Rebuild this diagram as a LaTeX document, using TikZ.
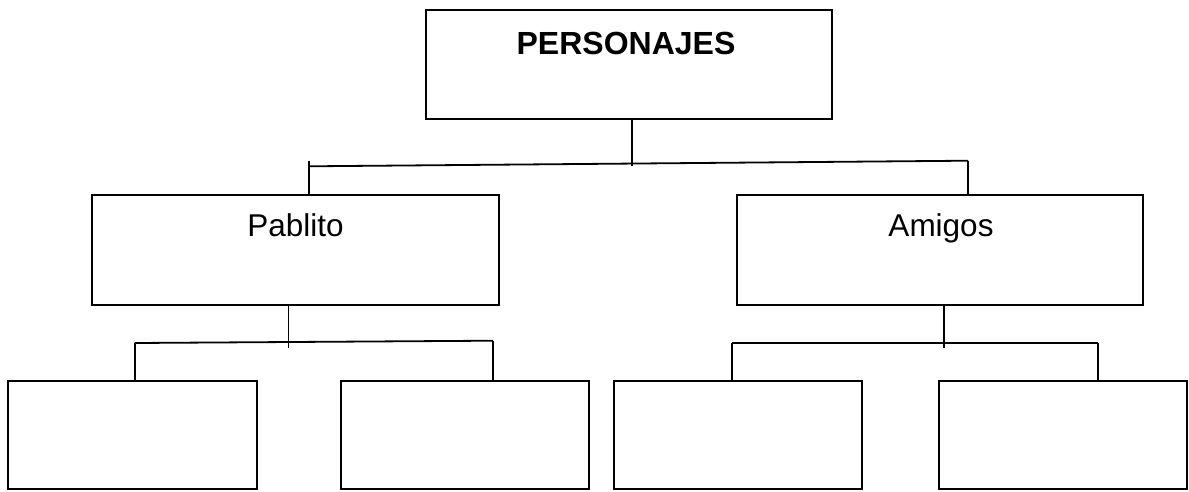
\documentclass[tikz,border=0pt]{standalone}
\usepackage{fontspec}
\setmainfont{Liberation Sans}
\begin{document}
\begin{tikzpicture}[x=1pt,y=-1pt,
  box/.style={draw=black,line width=1.8pt,inner sep=0pt,outer sep=0pt,fill=none},
  lbl/.style={inner sep=0pt,anchor=base,font=\fontsize{31.5}{37}\selectfont},
  conn/.style={draw=black,line width=1.8pt}]
\useasboundingbox[fill=white] (0,0) rectangle (1189,491);
% boxes
\node[box,minimum width=406pt,minimum height=109pt] (top) at (629,64.5) {};
\node[box,minimum width=407pt,minimum height=110pt] (pab) at (295.5,250) {};
\node[box,minimum width=406pt,minimum height=110pt] (ami) at (940,250) {};
\node[box,minimum width=249pt,minimum height=108pt] (b1) at (132.5,435) {};
\node[box,minimum width=248pt,minimum height=108pt] (b2) at (465,435) {};
\node[box,minimum width=248pt,minimum height=108pt] (b3) at (738,435) {};
\node[box,minimum width=248pt,minimum height=108pt] (b4) at (1063,435) {};
% labels
\node[lbl,font=\fontsize{32}{37}\selectfont\bfseries] (tPers) at (626,54) {PERSONAJES};
\node[lbl] (tPab) at (295.5,236.5) {Pablito};
\node[lbl] (tAmi) at (941,236.5) {Amigos};
% top-level connector
\coordinate (tj) at (632,166);
\coordinate (tl) at (309,166.3);
\coordinate (tlt) at (309,161);
\coordinate (tr) at (968,160.7);
\draw[conn] (top.south -| tj) -- (tj);
\draw[conn] (tl) -- (tr);
\draw[conn] (tlt) -- (pab.north -| tlt);
\draw[conn] (tr) -- (ami.north -| tr);
% Pablito connector
\coordinate (pj) at (288.5,348);
\coordinate (pl) at (134.7,343);
\coordinate (pr) at (493,340.7);
\draw[conn] (pab.south -| pj) -- (pj);
\draw[conn] (pl) -- (pr);
\draw[conn] (pl) -- (b1.north -| pl);
\draw[conn] (pr) -- (b2.north -| pr);
% Amigos connector
\coordinate (aj) at (944,348);
\coordinate (al) at (732,343);
\coordinate (ar) at (1098,343);
\draw[conn] (ami.south -| aj) -- (aj);
\draw[conn] (al) -- (ar);
\draw[conn] (al) -- (b3.north -| al);
\draw[conn] (ar) -- (b4.north -| ar);
\end{tikzpicture}
\end{document}
